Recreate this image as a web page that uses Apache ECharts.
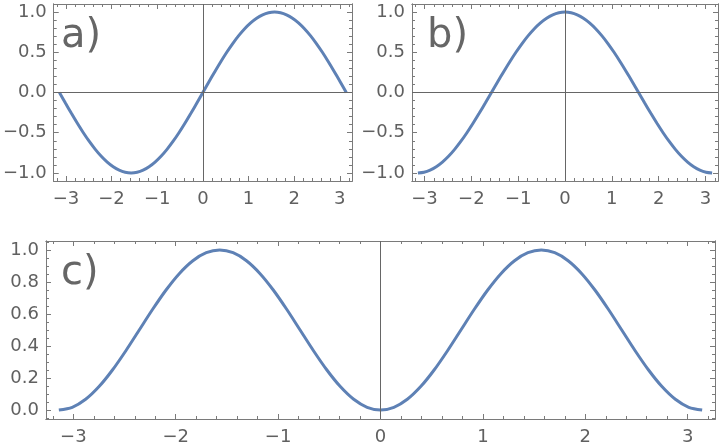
<!DOCTYPE html>
<html>
<head>
<meta charset="utf-8">
<script src="https://cdn.jsdelivr.net/npm/echarts@6/dist/echarts.min.js"></script>
<style>
html,body{margin:0;padding:0;background:#fff;}
#chart{width:720px;height:448px;}
</style>
</head>
<body>
<div id="chart"></div>
<script>
// ---- data ----
const xValues = [-3.1416,-3.0107,-2.8798,-2.7489,-2.6180,-2.4871,-2.3562,-2.2253,-2.0944,-1.9635,-1.8326,-1.7017,-1.5708,-1.4399,-1.3090,-1.1781,-1.0472,-0.9163,-0.7854,-0.6545,-0.5236,-0.3927,-0.2618,-0.1309,0,0.1309,0.2618,0.3927,0.5236,0.6545,0.7854,0.9163,1.0472,1.1781,1.3090,1.4399,1.5708,1.7017,1.8326,1.9635,2.0944,2.2253,2.3562,2.4871,2.6180,2.7489,2.8798,3.0107,3.1416];
const seriesA = [0,-0.1305,-0.2588,-0.3827,-0.5,-0.6088,-0.7071,-0.7934,-0.8660,-0.9239,-0.9659,-0.9914,-1,-0.9914,-0.9659,-0.9239,-0.8660,-0.7934,-0.7071,-0.6088,-0.5,-0.3827,-0.2588,-0.1305,0,0.1305,0.2588,0.3827,0.5,0.6088,0.7071,0.7934,0.8660,0.9239,0.9659,0.9914,1,0.9914,0.9659,0.9239,0.8660,0.7934,0.7071,0.6088,0.5,0.3827,0.2588,0.1305,0];
const seriesB = [-1,-0.9914,-0.9659,-0.9239,-0.8660,-0.7934,-0.7071,-0.6088,-0.5,-0.3827,-0.2588,-0.1305,0,0.1305,0.2588,0.3827,0.5,0.6088,0.7071,0.7934,0.8660,0.9239,0.9659,0.9914,1,0.9914,0.9659,0.9239,0.8660,0.7934,0.7071,0.6088,0.5,0.3827,0.2588,0.1305,0,-0.1305,-0.2588,-0.3827,-0.5,-0.6088,-0.7071,-0.7934,-0.8660,-0.9239,-0.9659,-0.9914,-1];
const seriesC = [0,0.0170,0.0670,0.1464,0.25,0.3706,0.5,0.6294,0.75,0.8536,0.9330,0.9830,1,0.9830,0.9330,0.8536,0.75,0.6294,0.5,0.3706,0.25,0.1464,0.0670,0.0170,0,0.0170,0.0670,0.1464,0.25,0.3706,0.5,0.6294,0.75,0.8536,0.9330,0.9830,1,0.9830,0.9330,0.8536,0.75,0.6294,0.5,0.3706,0.25,0.1464,0.0670,0.0170,0];
const panelLabels = ['a)', 'b)', 'c)'];
const xMajorTicks = [-3,-2,-1,0,1,2,3];
const xMinorTicks = [-3.2,-3.0,-2.8,-2.6,-2.4,-2.2,-2.0,-1.8,-1.6,-1.4,-1.2,-1.0,-0.8,-0.6,-0.4,-0.2,0,0.2,0.4,0.6,0.8,1.0,1.2,1.4,1.6,1.8,2.0,2.2,2.4,2.6,2.8,3.0,3.2];
const yMajorTicksAB = [-1,-0.5,0,0.5,1];
const yMinorTicksAB = [-1.0,-0.9,-0.8,-0.7,-0.6,-0.5,-0.4,-0.3,-0.2,-0.1,0,0.1,0.2,0.3,0.4,0.5,0.6,0.7,0.8,0.9,1.0];
const yMajorTicksC = [0,0.2,0.4,0.6,0.8,1.0];
const yMinorTicksC = [-0.05,0,0.05,0.1,0.15,0.2,0.25,0.3,0.35,0.4,0.45,0.5,0.55,0.6,0.65,0.7,0.75,0.8,0.85,0.9,0.95,1.0,1.05];

// ---- styling / layout ----
const FONT = 'DejaVu Sans';
const FRAME = '#7a7a7a';
const TEXT = '#606060';
const LINE = '#5E81B5';
const X_EXT = 3.267;
const grids = [
  {left: 46, top: 4, width: 306, height: 177},
  {left: 412, top: 4, width: 306, height: 177},
  {left: 46, top: 241, width: 669, height: 178}
];
const yExt = [[-1.1, 1.1], [-1.1, 1.1], [-0.056, 1.056]];
const yMajors = [yMajorTicksAB, yMajorTicksAB, yMajorTicksC];
const yMinors = [yMinorTicksAB, yMinorTicksAB, yMinorTicksC];
const seriesData = [seriesA, seriesB, seriesC];

function fmt(digits) {
  return function (v) {
    const s = Math.abs(v).toFixed(digits);
    return (v < -1e-9 ? '\u2212' : '') + s;
  };
}

function axis(kind, g, position, ticks, len, labels, digits, ext) {
  const a = {
    type: 'value', gridIndex: g, position: position,
    min: ext[0], max: ext[1],
    axisLine: {show: true, onZero: false, lineStyle: {color: FRAME, width: 1}},
    axisTick: {show: true, inside: true, length: len, customValues: ticks, lineStyle: {color: FRAME, width: 1}},
    splitLine: {show: false},
    minorTick: {show: false},
    axisLabel: {show: false}
  };
  if (labels) {
    a.axisLabel = {
      show: true, customValues: labels, formatter: fmt(digits),
      color: TEXT, fontFamily: FONT, fontSize: 18,
      margin: kind === 'x' ? 9 : 7,
      showMinLabel: true, showMaxLabel: true, hideOverlap: false
    };
  }
  return a;
}

const xAxes = [], yAxes = [], series = [], graphics = [];
grids.forEach((gr, g) => {
  const xe = [-X_EXT, X_EXT];
  xAxes.push(axis('x', g, 'bottom', xMajorTicks, 5, xMajorTicks, 0, xe));
  xAxes.push(axis('x', g, 'bottom', xMinorTicks, 3, null, 0, xe));
  xAxes.push(axis('x', g, 'top', xMajorTicks, 5, null, 0, xe));
  xAxes.push(axis('x', g, 'top', xMinorTicks, 3, null, 0, xe));
  yAxes.push(axis('y', g, 'left', yMajors[g], 5, yMajors[g], 1, yExt[g]));
  yAxes.push(axis('y', g, 'left', yMinors[g], 3, null, 1, yExt[g]));
  yAxes.push(axis('y', g, 'right', yMajors[g], 5, null, 1, yExt[g]));
  yAxes.push(axis('y', g, 'right', yMinors[g], 3, null, 1, yExt[g]));

  const zeroLines = g === 2 ? [{xAxis: 0}] : [{xAxis: 0}, {yAxis: 0}];
  series.push({
    type: 'line', xAxisIndex: 4 * g, yAxisIndex: 4 * g, data: [], z: 1,
    markLine: {
      silent: true, symbol: 'none', animation: false, label: {show: false},
      lineStyle: {color: '#666', width: 1, type: 'solid'},
      emphasis: {disabled: true},
      data: zeroLines
    }
  });
  series.push({
    type: 'line', xAxisIndex: 4 * g, yAxisIndex: 4 * g, z: 3,
    data: xValues.map((x, i) => [x, seriesData[g][i]]),
    showSymbol: false, symbol: 'none', smooth: 0.3,
    lineStyle: {color: LINE, width: 3},
    animation: false, silent: true
  });
  graphics.push({
    type: 'text', left: gr.left + 15, top: gr.top + 13, z: 10,
    style: {text: panelLabels[g], font: '40px "' + FONT + '"', fill: '#666'}
  });
});

const chart = echarts.init(document.getElementById('chart'), null, {renderer: 'canvas'});
chart.setOption({
  animation: false,
  backgroundColor: '#fff',
  grid: grids.map(g => Object.assign({containLabel: false, show: false}, g)),
  xAxis: xAxes,
  yAxis: yAxes,
  series: series,
  graphic: graphics
});
</script>
</body>
</html>
